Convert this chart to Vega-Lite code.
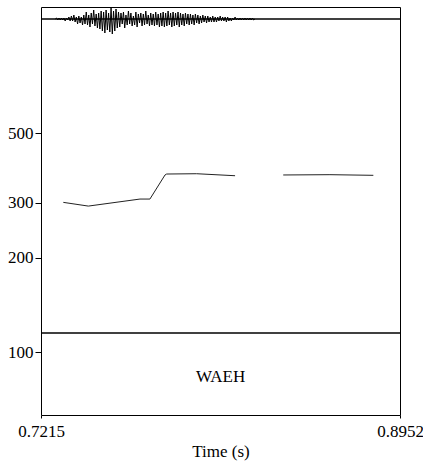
{
  "$schema": "https://vega.github.io/schema/vega-lite/v6.json",
  "width": 359,
  "height": 408,
  "autosize": "none",
  "padding": {"left": 41, "top": 7, "right": 23, "bottom": 50},
  "background": "white",
  "config": {
    "view": {"stroke": "#000", "strokeWidth": 1},
    "font": "Liberation Serif",
    "axis": {"domain": false, "grid": false, "tickColor": "#000", "labelColor": "#000", "titleColor": "#000", "labelFont": "Liberation Serif", "titleFont": "Liberation Serif", "labelFontSize": 17, "titleFontSize": 17, "titleFontWeight": "normal"}
  },
  "datasets": {
    "pitch": [
      {"t": 0.7323, "f": 300.8, "seg": 1},
      {"t": 0.7444, "f": 292.7, "seg": 1},
      {"t": 0.7694, "f": 308.2, "seg": 1},
      {"t": 0.7742, "f": 308.2, "seg": 1},
      {"t": 0.7815, "f": 367.9, "seg": 1},
      {"t": 0.7823, "f": 370.5, "seg": 1},
      {"t": 0.7968, "f": 371.3, "seg": 1},
      {"t": 0.8154, "f": 365.9, "seg": 1},
      {"t": 0.8387, "f": 367.9, "seg": 2},
      {"t": 0.8613, "f": 368.7, "seg": 2},
      {"t": 0.8823, "f": 367.0, "seg": 2}
    ],
    "wave": [
      {"t": 0.7284, "a": 0},
      {"t": 0.7290, "a": 1}, {"t": 0.7296, "a": -1}, {"t": 0.7302, "a": 1}, {"t": 0.7308, "a": -1}, {"t": 0.7314, "a": 1},
      {"t": 0.7320, "a": -1}, {"t": 0.7326, "a": 1}, {"t": 0.7332, "a": -2}, {"t": 0.7338, "a": 1}, {"t": 0.7344, "a": -1},
      {"t": 0.7350, "a": 2}, {"t": 0.7356, "a": -2}, {"t": 0.7362, "a": 3}, {"t": 0.7368, "a": -2}, {"t": 0.7374, "a": 4},
      {"t": 0.7380, "a": -3}, {"t": 0.7386, "a": 2}, {"t": 0.7392, "a": -5}, {"t": 0.7398, "a": 3}, {"t": 0.7404, "a": -4},
      {"t": 0.7410, "a": 2}, {"t": 0.7416, "a": -6}, {"t": 0.7422, "a": 4}, {"t": 0.7428, "a": -5}, {"t": 0.7434, "a": 7},
      {"t": 0.7440, "a": -6}, {"t": 0.7446, "a": 4}, {"t": 0.7452, "a": -8}, {"t": 0.7458, "a": 6}, {"t": 0.7464, "a": -5},
      {"t": 0.7470, "a": 9}, {"t": 0.7476, "a": -7}, {"t": 0.7482, "a": 5}, {"t": 0.7488, "a": -9}, {"t": 0.7494, "a": 6},
      {"t": 0.7500, "a": -10}, {"t": 0.7506, "a": 8}, {"t": 0.7512, "a": -12}, {"t": 0.7518, "a": 7}, {"t": 0.7524, "a": -14},
      {"t": 0.7530, "a": 9}, {"t": 0.7536, "a": -11}, {"t": 0.7542, "a": 6}, {"t": 0.7548, "a": -13}, {"t": 0.7554, "a": 11},
      {"t": 0.7560, "a": -15}, {"t": 0.7566, "a": 8}, {"t": 0.7572, "a": -12}, {"t": 0.7578, "a": 10}, {"t": 0.7584, "a": -9},
      {"t": 0.7590, "a": 7}, {"t": 0.7596, "a": -8}, {"t": 0.7602, "a": 6}, {"t": 0.7608, "a": -5}, {"t": 0.7614, "a": 7},
      {"t": 0.7620, "a": -9}, {"t": 0.7626, "a": 4}, {"t": 0.7632, "a": -6}, {"t": 0.7638, "a": 8}, {"t": 0.7644, "a": -5},
      {"t": 0.7650, "a": 6}, {"t": 0.7656, "a": -7}, {"t": 0.7662, "a": 3}, {"t": 0.7668, "a": -6}, {"t": 0.7674, "a": 7},
      {"t": 0.7680, "a": -8}, {"t": 0.7686, "a": 5}, {"t": 0.7692, "a": -4}, {"t": 0.7698, "a": 6}, {"t": 0.7704, "a": -7},
      {"t": 0.7710, "a": 5}, {"t": 0.7716, "a": -6}, {"t": 0.7722, "a": 8}, {"t": 0.7728, "a": -5}, {"t": 0.7734, "a": 4},
      {"t": 0.7740, "a": -7}, {"t": 0.7746, "a": 6}, {"t": 0.7752, "a": -6}, {"t": 0.7758, "a": 5}, {"t": 0.7764, "a": -7},
      {"t": 0.7770, "a": 7}, {"t": 0.7776, "a": -6}, {"t": 0.7782, "a": 5}, {"t": 0.7788, "a": -8}, {"t": 0.7794, "a": 6},
      {"t": 0.7800, "a": -7}, {"t": 0.7806, "a": 7}, {"t": 0.7812, "a": -8}, {"t": 0.7818, "a": 6}, {"t": 0.7824, "a": -7},
      {"t": 0.7830, "a": 8}, {"t": 0.7836, "a": -6}, {"t": 0.7842, "a": 6}, {"t": 0.7848, "a": -8}, {"t": 0.7854, "a": 7},
      {"t": 0.7860, "a": -7}, {"t": 0.7866, "a": 6}, {"t": 0.7872, "a": -6}, {"t": 0.7878, "a": 7}, {"t": 0.7884, "a": -8},
      {"t": 0.7890, "a": 6}, {"t": 0.7896, "a": -6}, {"t": 0.7902, "a": 5}, {"t": 0.7908, "a": -7}, {"t": 0.7914, "a": 6},
      {"t": 0.7920, "a": -5}, {"t": 0.7926, "a": 5}, {"t": 0.7932, "a": -6}, {"t": 0.7938, "a": 5}, {"t": 0.7944, "a": -5},
      {"t": 0.7950, "a": 4}, {"t": 0.7956, "a": -6}, {"t": 0.7962, "a": 5}, {"t": 0.7968, "a": -4}, {"t": 0.7974, "a": 4},
      {"t": 0.7980, "a": -5}, {"t": 0.7986, "a": 3}, {"t": 0.7992, "a": -4}, {"t": 0.7998, "a": 4}, {"t": 0.8004, "a": -3},
      {"t": 0.8010, "a": 3}, {"t": 0.8016, "a": -4}, {"t": 0.8022, "a": 3}, {"t": 0.8028, "a": -3}, {"t": 0.8034, "a": 2},
      {"t": 0.8040, "a": -3}, {"t": 0.8046, "a": 3}, {"t": 0.8052, "a": -3}, {"t": 0.8058, "a": 2}, {"t": 0.8064, "a": -3},
      {"t": 0.8070, "a": 2}, {"t": 0.8076, "a": -2}, {"t": 0.8082, "a": 3}, {"t": 0.8088, "a": -2}, {"t": 0.8094, "a": 2},
      {"t": 0.8100, "a": -2}, {"t": 0.8106, "a": 2}, {"t": 0.8112, "a": -3}, {"t": 0.8118, "a": 2}, {"t": 0.8124, "a": -2},
      {"t": 0.8130, "a": 1}, {"t": 0.8136, "a": -2}, {"t": 0.8142, "a": 1}, {"t": 0.8148, "a": -1}, {"t": 0.8154, "a": 2},
      {"t": 0.8160, "a": -1}, {"t": 0.8166, "a": 1}, {"t": 0.8172, "a": -1}, {"t": 0.8178, "a": 1}, {"t": 0.8184, "a": -1},
      {"t": 0.8190, "a": 1}, {"t": 0.8196, "a": -1}, {"t": 0.8202, "a": 1}, {"t": 0.8208, "a": -1}, {"t": 0.8214, "a": 1},
      {"t": 0.8220, "a": -1}, {"t": 0.8226, "a": 1}, {"t": 0.8232, "a": -1}, {"t": 0.8238, "a": 1}, {"t": 0.8244, "a": -1},
      {"t": 0.8250, "a": 0}
    ],
    "tier": [
      {"t": 0.8084, "a": -358, "label": "WAEH"}
    ]
  },
  "layer": [
    {
      "data": {"name": "pitch"},
      "mark": {"type": "line", "color": "#222", "strokeWidth": 1},
      "encoding": {
        "x": {"field": "t", "type": "quantitative", "scale": {"domain": [0.7215, 0.8952], "nice": false, "zero": false},
              "axis": {"values": [0.7215, 0.8952], "format": ".4f", "title": "Time (s)", "tickSize": 3, "labelPadding": 5, "titlePadding": 4, "labelFlush": false}},
        "y": {"field": "f", "type": "quantitative", "scale": {"type": "log", "domain": [63, 1265], "nice": false, "zero": false},
              "axis": {"values": [100, 200, 300, 500], "title": null, "tickSize": 6, "labelPadding": 2}},
        "detail": {"field": "seg"}
      }
    },
    {
      "layer": [
        {
          "data": {"name": "wave"},
          "mark": {"type": "line", "color": "#000", "strokeWidth": 1, "clip": true},
          "encoding": {
            "x": {"field": "t", "type": "quantitative"},
            "y": {"field": "a", "type": "quantitative", "scale": {"domain": [-396, 12], "nice": false, "zero": false}, "axis": null}
          }
        },
        {
          "data": {"values": [{"a": 0}, {"a": -314}]},
          "mark": {"type": "rule", "color": "#000", "strokeWidth": 1.3},
          "encoding": {
            "y": {"field": "a", "type": "quantitative"}
          }
        },
        {
          "data": {"name": "tier"},
          "mark": {"type": "text", "font": "Liberation Serif", "fontSize": 17, "color": "#000"},
          "encoding": {
            "x": {"field": "t", "type": "quantitative"},
            "y": {"field": "a", "type": "quantitative"},
            "text": {"field": "label"}
          }
        }
      ]
    }
  ],
  "resolve": {"scale": {"y": "independent"}}
}
